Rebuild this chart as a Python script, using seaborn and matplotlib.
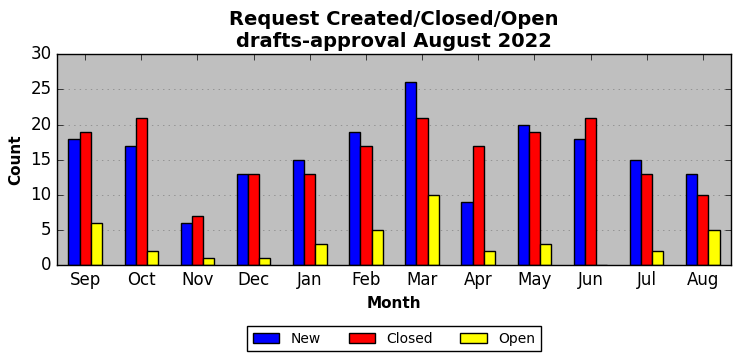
import numpy as np
import pandas as pd
import seaborn as sns
import matplotlib.pyplot as plt

months = ['Sep', 'Oct', 'Nov', 'Dec', 'Jan', 'Feb', 'Mar', 'Apr', 'May', 'Jun', 'Jul', 'Aug']
new = [18, 17, 6, 13, 15, 19, 26, 9, 20, 18, 15, 13]
closed = [19, 21, 7, 13, 13, 17, 21, 17, 19, 21, 13, 10]
open_ = [6, 2, 1, 1, 3, 5, 10, 2, 3, 0, 2, 5]

plt.style.use('classic')

df = pd.DataFrame({'Month': months, 'New': new, 'Closed': closed, 'Open': open_})
long = df.melt(id_vars='Month', var_name='Status', value_name='Count')

fig, ax = plt.subplots(figsize=(7.42, 3.61), dpi=100)
ax.set_facecolor('#bfbfbf')
sns.barplot(data=long, x='Month', y='Count', hue='Status',
            palette=['blue', 'red', 'yellow'], width=0.6,
            edgecolor='black', linewidth=1, saturation=1, ax=ax)
ax.set_xlim(-0.5, 11.5)
ax.set_ylim(0, 30)
ax.yaxis.grid(True, linestyle=':', color='gray')
ax.xaxis.grid(False)
ax.set_axisbelow(True)
ax.set_title('Request Created/Closed/Open\ndrafts-approval August 2022',
             fontweight='bold', fontsize=14)
ax.set_xlabel('Month', fontweight='bold', fontsize=11)
ax.set_ylabel('Count', fontweight='bold', fontsize=11)
ax.legend(loc='upper center', bbox_to_anchor=(0.5, -0.255), ncol=3,
          fontsize=10, frameon=True, handlelength=1.9)

fig.subplots_adjust(left=0.077, right=0.985, top=0.85, bottom=0.265)
fig.savefig('out.png', dpi=100)
